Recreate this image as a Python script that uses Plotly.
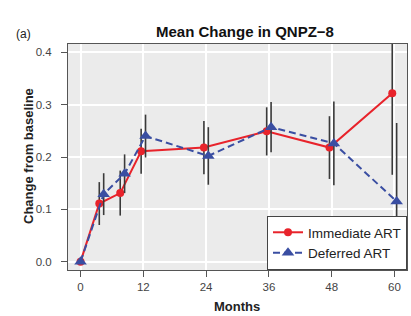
import plotly.graph_objects as go

# ---- data ----
months = [0, 4, 8, 12, 24, 36, 48, 60]
immediate = [0.0, 0.111, 0.131, 0.211, 0.218, 0.249, 0.218, 0.322]
immediate_err = [0.0, 0.041, 0.043, 0.043, 0.051, 0.046, 0.060, 0.156]
deferred = [0.0, 0.129, 0.168, 0.240, 0.202, 0.257, 0.226, 0.115]
deferred_err = [0.0, 0.040, 0.037, 0.041, 0.055, 0.048, 0.080, 0.150]
x_ticks = [0, 12, 24, 36, 48, 60]
y_ticks = [0.0, 0.1, 0.2, 0.3, 0.4]
series_names = ["Immediate ART", "Deferred ART"]

# ---- styles ----
W, H = 411, 316
L, R, T, B = 68, 4.3, 44, 46
PW, PH = W - L - R, H - T - B
RED = "#e8232b"
BLUE = "#3a4ea2"
ERR = "#3a3a3a"
FONT = "Liberation Sans, Arial, sans-serif"
dodge = 0.42


def px_x(p):
    """page pixel x -> paper coordinate"""
    return (p - L) / PW


def px_y(p):
    """page pixel y -> paper coordinate"""
    return (H - B - p) / PH


fig = go.Figure()
fig.add_trace(go.Scatter(
    x=[m - dodge if m > 0 else m for m in months], y=immediate,
    mode="lines+markers", name=series_names[0],
    line=dict(color=RED, width=2),
    marker=dict(color=RED, size=8, symbol="circle"),
    error_y=dict(type="data", array=immediate_err, visible=True,
                 color=ERR, thickness=1.6, width=0),
))
fig.add_trace(go.Scatter(
    x=[m + dodge if m > 0 else m for m in months], y=deferred,
    mode="lines+markers", name=series_names[1],
    line=dict(color=BLUE, width=2, dash="7px,4px"),
    marker=dict(color=BLUE, size=11, symbol="triangle-up"),
    error_y=dict(type="data", array=deferred_err, visible=True,
                 color=ERR, thickness=1.6, width=0),
))

axis_common = dict(
    showline=True, linecolor="#555555", linewidth=1, mirror=True,
    ticks="outside", ticklen=6, tickcolor="#555555", tickwidth=1,
    tickfont=dict(family=FONT, size=11.5, color="#444444"),
    showgrid=True, gridcolor="#ffffff", gridwidth=1.6, zeroline=False,
)

fig.update_layout(
    width=W, height=H,
    margin=dict(l=L, r=R, t=T, b=B),
    paper_bgcolor="#ffffff", plot_bgcolor="#ebebeb",
    font=dict(family=FONT),
    xaxis=dict(range=[-2.4, 62.4], tickvals=x_ticks, ticklabelstandoff=0,
               **axis_common),
    yaxis=dict(range=[-0.016, 0.416], tickvals=y_ticks, tickformat=".1f",
               ticklabelstandoff=7, **axis_common),
    showlegend=True,
    legend=dict(x=1, y=0, xanchor="right", yanchor="bottom",
                bgcolor="#ffffff", bordercolor="#444444", borderwidth=1,
                font=dict(family=FONT, size=13.5, color="#222222"),
                tracegroupgap=0),
    annotations=[
        dict(text="<b>Mean Change in QNPZ\u22128</b>", xref="paper", yref="paper",
             x=px_x(245), y=px_y(31), xanchor="center", yanchor="middle",
             showarrow=False, font=dict(family=FONT, size=15, color="#111111")),
        dict(text="(a)", xref="paper", yref="paper",
             x=px_x(24), y=px_y(34), xanchor="center", yanchor="middle",
             showarrow=False, font=dict(family=FONT, size=12, color="#222222")),
        dict(text="<b>Change from baseline</b>", xref="paper", yref="paper",
             x=px_x(28), y=px_y(156), xanchor="center", yanchor="middle",
             textangle=-90, showarrow=False,
             font=dict(family=FONT, size=13, color="#222222")),
        dict(text="<b>Months</b>", xref="paper", yref="paper",
             x=px_x(237), y=px_y(306), xanchor="center", yanchor="middle",
             showarrow=False, font=dict(family=FONT, size=13, color="#222222")),
    ],
)

fig.write_html(
    "out.html",
    config={"displayModeBar": False},
    post_script="document.body.style.margin='0';",
)
